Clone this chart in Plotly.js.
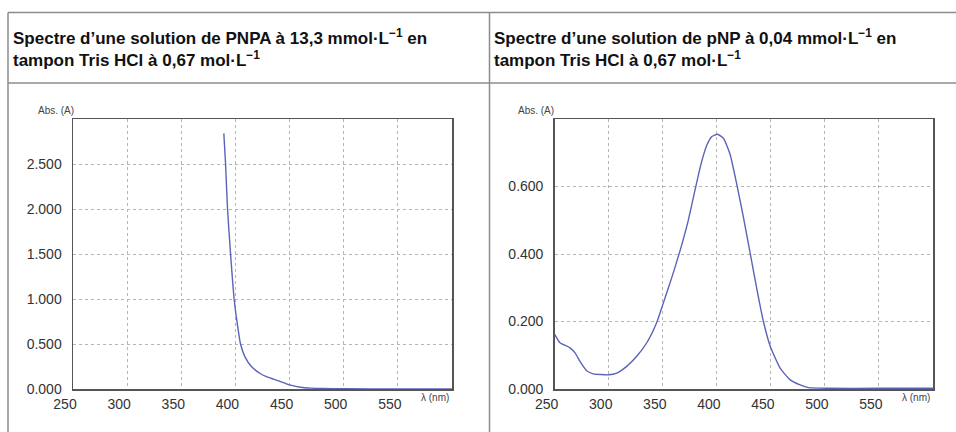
<!DOCTYPE html>
<html>
<head>
<meta charset="utf-8">
<script src="https://cdn.plot.ly/plotly-3.0.1.min.js"></script>
<style>html,body{margin:0;padding:0;background:#fff;}#chart{width:956px;height:432px;}</style>
</head>
<body>
<div id="chart"></div>
<script>
// --- Data ---
const titleLeft = "Spectre d’une solution de PNPA à 13,3 mmol·L<sup>−1</sup> en<br>tampon Tris HCl à 0,67 mol·L<sup>−1</sup>";
const titleRight = "Spectre d’une solution de pNP à 0,04 mmol·L<sup>−1</sup> en<br>tampon Tris HCl à 0,67 mol·L<sup>−1</sup>";
const yLabel = "Abs. (A)";
const xLabel = "λ (nm)";

const pnpaWavelength = [389.3, 390.9, 392.7, 395.5, 398.8, 401.6, 404.7, 408.7, 414.8, 422.5, 428.6, 435, 440, 450, 460, 470, 480, 500, 550, 600];
const pnpaAbs =        [2.84,  2.50,  2.00,  1.50,  1.00,  0.735, 0.50,  0.36,  0.25,  0.175, 0.137, 0.11, 0.09, 0.045, 0.02, 0.01, 0.005, 0.002, 0.001, 0.001];

const pnpWavelength = [250, 254.9, 264.2, 268.8, 273.4, 279.6, 285.7, 300, 307.4, 316.6, 325.9, 335.2, 344.4, 350, 358.3, 366, 373, 380, 385, 390.7, 395.4, 400.6, 406.1, 412.3, 418.5, 424.7, 430.8, 437, 443.1, 449.4, 458.6, 467.9, 477.1, 484.8, 501.9, 550, 600];
const pnpAbs =        [0.162, 0.137, 0.122, 0.107, 0.082, 0.054, 0.045, 0.042, 0.047, 0.067, 0.097, 0.137, 0.197, 0.250, 0.330, 0.410, 0.492, 0.592, 0.662, 0.722, 0.748, 0.755, 0.743, 0.695, 0.606, 0.507, 0.403, 0.297, 0.200, 0.127, 0.062, 0.027, 0.012, 0.004, 0.002, 0.002, 0.002];

const xTicks = [250, 300, 350, 400, 450, 500, 550];
const yTicksLeft = [0, 0.5, 1.0, 1.5, 2.0, 2.5];
const yTicksRight = [0, 0.2, 0.4, 0.6];

// --- Styling / layout ---
const W = 956, H = 432;
const px = x => x / W;
const py = y => 1 - y / H;
const lineColor = "#5b63b8";
const tickFont = {family: "Liberation Sans, Arial, sans-serif", size: 14, color: "#333"};

function xAxis(domain, anchor) {
  return {
    domain: domain, anchor: anchor, range: [250, 600],
    tickmode: "array", tickvals: xTicks, ticktext: xTicks.map(String),
    ticks: "", showgrid: true, gridcolor: "#b5b5b5", griddash: "dot", gridwidth: 1,
    showline: true, mirror: true, linecolor: "#555", linewidth: 1.5,
    zeroline: false, tickfont: tickFont, ticklabelshift: -8, ticklabelstandoff: 2,
    fixedrange: true
  };
}
function yAxis(domain, anchor, range, vals) {
  return {
    domain: domain, anchor: anchor, range: range,
    tickmode: "array", tickvals: vals, tickformat: ".3f",
    ticks: "", showgrid: true, gridcolor: "#b5b5b5", griddash: "dot", gridwidth: 1,
    showline: true, mirror: true, linecolor: "#555", linewidth: 1.5,
    zeroline: false, tickfont: tickFont, ticklabelstandoff: 7,
    fixedrange: true
  };
}

const yDom = [py(389), py(119)];

const traces = [
  {x: pnpaWavelength, y: pnpaAbs, type: "scatter", mode: "lines", line: {color: lineColor, width: 1.4, shape: "spline", smoothing: 0.5}, xaxis: "x", yaxis: "y", hoverinfo: "skip"},
  {x: pnpWavelength, y: pnpAbs, type: "scatter", mode: "lines", line: {color: lineColor, width: 1.4, shape: "spline", smoothing: 0.5}, xaxis: "x2", yaxis: "y2", hoverinfo: "skip"}
];

const borderColor = "#8c8c8c";
const shapes = [
  {type: "line", xref: "paper", yref: "paper", x0: px(8), x1: 1, y0: py(12.5), y1: py(12.5), line: {color: borderColor, width: 1.5}},
  {type: "line", xref: "paper", yref: "paper", x0: px(8), x1: 1, y0: py(83), y1: py(83), line: {color: borderColor, width: 1.5}},
  {type: "line", xref: "paper", yref: "paper", x0: px(8), x1: px(8), y0: py(12.5), y1: 0, line: {color: borderColor, width: 1.5}},
  {type: "line", xref: "paper", yref: "paper", x0: px(489.5), x1: px(489.5), y0: py(12.5), y1: 0, line: {color: borderColor, width: 1.5}}
];

const titleFont = {family: "Liberation Sans, Arial, sans-serif", size: 17, color: "#111"};
const smallFont = {family: "Liberation Sans, Arial, sans-serif", size: 10, color: "#444"};

const annotations = [
  {text: "<b>" + titleLeft + "</b>", xref: "paper", yref: "paper", x: px(11), y: py(24), xanchor: "left", yanchor: "top", showarrow: false, align: "left", font: titleFont},
  {text: "<b>" + titleRight + "</b>", xref: "paper", yref: "paper", x: px(491.5), y: py(24), xanchor: "left", yanchor: "top", showarrow: false, align: "left", font: titleFont},
  {text: yLabel, xref: "paper", yref: "paper", x: px(56), y: py(110), xanchor: "center", yanchor: "middle", showarrow: false, font: smallFont},
  {text: yLabel, xref: "paper", yref: "paper", x: px(536), y: py(110), xanchor: "center", yanchor: "middle", showarrow: false, font: smallFont},
  {text: xLabel, xref: "paper", yref: "paper", x: px(435), y: py(397), xanchor: "center", yanchor: "middle", showarrow: false, font: smallFont},
  {text: xLabel, xref: "paper", yref: "paper", x: px(916), y: py(397), xanchor: "center", yanchor: "middle", showarrow: false, font: smallFont}
];

const layout = {
  width: W, height: H,
  margin: {l: 0, r: 0, t: 0, b: 0},
  paper_bgcolor: "#fff", plot_bgcolor: "#fff",
  showlegend: false,
  xaxis: xAxis([px(73), px(452)], "y"),
  yaxis: yAxis(yDom, "x", [0, 3.0], yTicksLeft),
  xaxis2: xAxis([px(554.7), px(933)], "y2"),
  yaxis2: yAxis(yDom, "x2", [0, 0.8], yTicksRight),
  shapes: shapes,
  annotations: annotations
};

Plotly.newPlot("chart", traces, layout, {displayModeBar: false, staticPlot: true});
</script>
</body>
</html>
